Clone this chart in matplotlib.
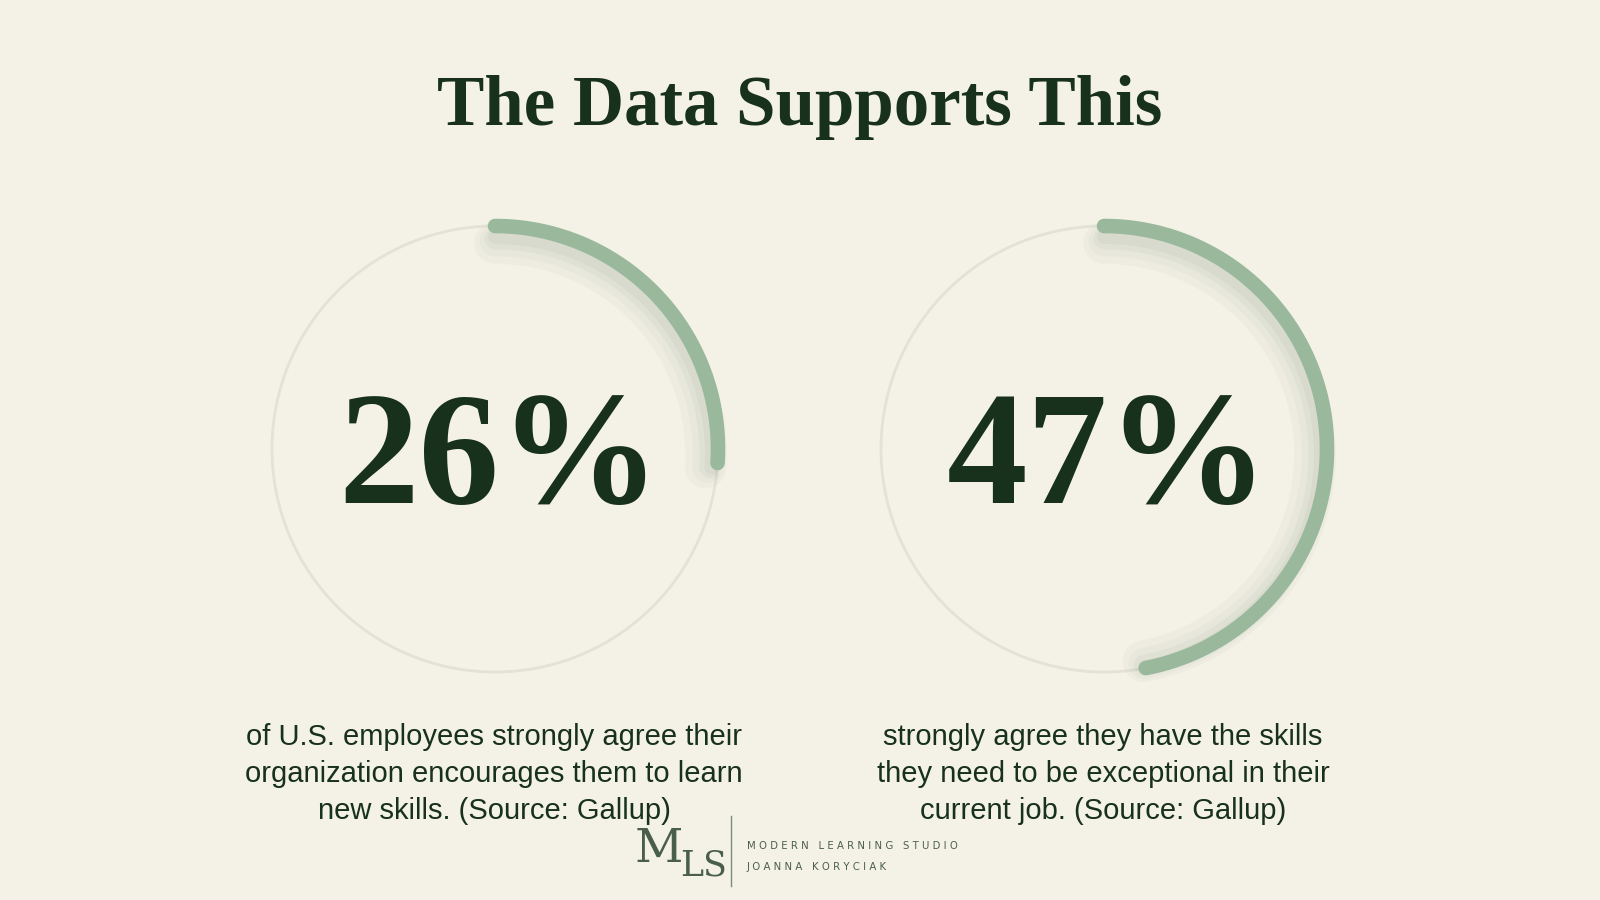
import numpy as np
import matplotlib.pyplot as plt

# ---- data ----
title = "The Data Supports This"
values = [26, 47]
value_labels = ["26%", "47%"]
captions = [
    "of U.S. employees strongly agree their\norganization encourages them to learn\nnew skills. (Source: Gallup)",
    "strongly agree they have the skills\nthey need to be exceptional in their\ncurrent job. (Source: Gallup)",
]
brand_line1 = "MODERN LEARNING STUDIO"
brand_line2 = "JOANNA KORYCIAK"

# ---- style ----
BG = "#f4f1e6"
DARK = "#17311c"
ARC = "#9ab89b"
TRACK = "#e4e2d6"
LOGO = "#4a5e4c"

fig = plt.figure(figsize=(16, 9), dpi=100)
fig.patch.set_facecolor(BG)
ax = fig.add_axes([0, 0, 1, 1])
ax.set_xlim(0, 1600)
ax.set_ylim(900, 0)
ax.set_aspect("equal")
ax.axis("off")
ax.set_facecolor(BG)

centers = [(495, 449), (1104, 449)]
R = 223

ax.text(800, 108, title, ha="center", va="center", fontsize=51,
        family="Liberation Serif", fontweight="bold", color=DARK)

for (cx, cy), v, lab, cap in zip(centers, values, value_labels, captions):
    t = np.linspace(0, 2 * np.pi, 400)
    ax.plot(cx + R * np.cos(t), cy + R * np.sin(t), color=TRACK, lw=2.0,
            solid_capstyle="round", zorder=1)
    ang = np.linspace(np.pi / 2, np.pi / 2 - 2 * np.pi * v / 100, 300)
    # soft shadow
    for dr, lw, a in [(12, 30, 0.04), (10, 22, 0.05), (8, 15, 0.06), (6, 10, 0.07)]:
        ax.plot(cx + (R - dr) * np.cos(ang), cy - (R - dr) * np.sin(ang) + 5,
                color="#6f8a70", lw=lw, alpha=a, solid_capstyle="round", zorder=2)
    ax.plot(cx + R * np.cos(ang), cy - R * np.sin(ang), color=ARC, lw=10.5,
            solid_capstyle="round", zorder=3)
    ax.text(cx + 4, cy + 15, lab, ha="center", va="center", fontsize=116,
            family="Liberation Serif", fontweight="bold", color=DARK, zorder=4)
    ax.text(cx - 1, 774, cap, ha="center", va="center", fontsize=21,
            family="Liberation Sans", color=DARK, linespacing=1.42, zorder=4)

# logo
ax.text(659, 849, "M", ha="center", va="center", fontsize=34,
        family="DejaVu Serif", color=LOGO)
ax.text(704, 866, "LS", ha="center", va="center", fontsize=25,
        family="DejaVu Serif", color=LOGO)
ax.plot([731, 731], [816, 886], color="#7d8c7e", lw=1)
ax.text(747, 846, " ".join(list(brand_line1)),
        ha="left", va="center", fontsize=7.3, family="DejaVu Sans",
        color=LOGO)
ax.text(747, 867, " ".join(list(brand_line2)),
        ha="left", va="center", fontsize=7.3, family="DejaVu Sans",
        color=LOGO)

fig.savefig("out.png", dpi=100, facecolor=BG)
